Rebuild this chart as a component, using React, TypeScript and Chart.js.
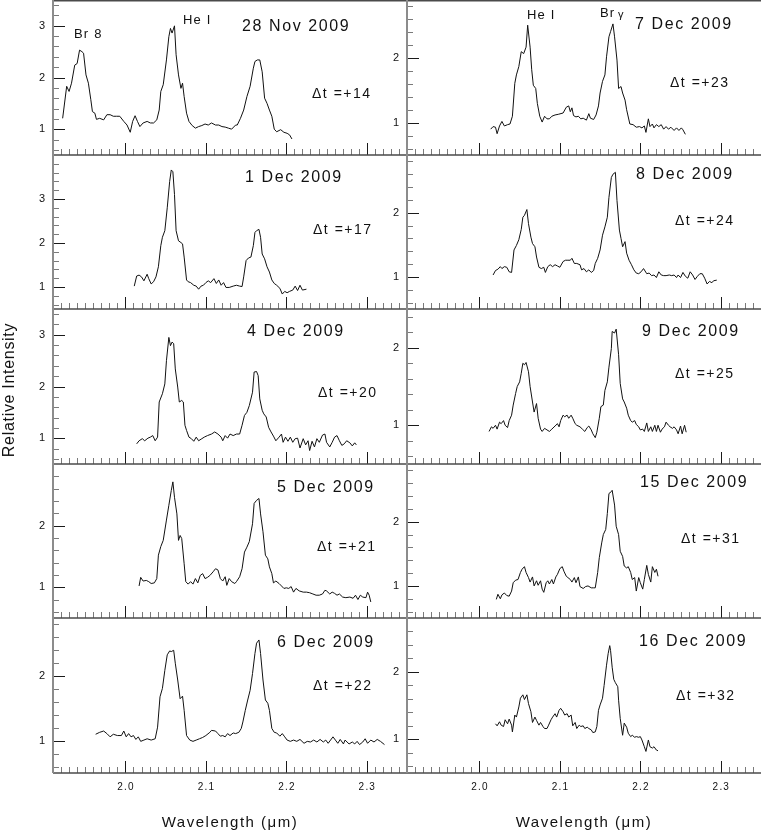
import { useEffect, useRef } from "react"
import Chart from "chart.js/auto"

const FONT = '"Liberation Sans", Arial, Helvetica, sans-serif'

// ---- spectra (wavelength in µm, relative intensity) ----
const nov28Wave = [1.922, 1.927, 1.930, 1.933, 1.937, 1.940, 1.943, 1.946, 1.948, 1.951, 1.954, 1.957, 1.959, 1.962, 1.964, 1.968, 1.973, 1.977, 1.981, 1.985, 1.989, 1.993, 1.998, 2.002, 2.006, 2.009, 2.012, 2.015, 2.018, 2.022, 2.027, 2.031, 2.035, 2.039, 2.042, 2.044, 2.047, 2.051, 2.054, 2.056, 2.058, 2.061, 2.063, 2.066, 2.069, 2.071, 2.073, 2.076, 2.079, 2.083, 2.087, 2.091, 2.095, 2.099, 2.103, 2.107, 2.112, 2.116, 2.120, 2.124, 2.128, 2.132, 2.137, 2.139, 2.143, 2.147, 2.151, 2.155, 2.159, 2.161, 2.164, 2.167, 2.170, 2.173, 2.176, 2.179, 2.182, 2.185, 2.188, 2.193, 2.197, 2.201, 2.204, 2.207]
const nov28Flux = [1.21, 1.83, 1.73, 1.89, 2.24, 2.27, 2.53, 2.50, 2.47, 2.05, 1.89, 1.57, 1.34, 1.31, 1.19, 1.21, 1.18, 1.28, 1.28, 1.25, 1.25, 1.25, 1.15, 1.08, 0.94, 1.15, 1.26, 1.15, 1.05, 1.12, 1.15, 1.12, 1.12, 1.18, 1.37, 1.73, 1.86, 2.34, 2.79, 2.95, 2.86, 3.0, 2.44, 2.05, 1.79, 1.89, 1.63, 1.31, 1.15, 1.07, 1.02, 1.05, 1.07, 1.10, 1.08, 1.12, 1.08, 1.08, 1.05, 1.04, 1.02, 1.0, 1.08, 1.08, 1.21, 1.37, 1.63, 1.83, 2.18, 2.31, 2.34, 2.34, 2.11, 1.60, 1.50, 1.37, 1.25, 1.0, 0.95, 0.99, 0.94, 0.92, 0.89, 0.81]

const dec1Wave = [2.011, 2.014, 2.017, 2.020, 2.023, 2.027, 2.029, 2.032, 2.035, 2.038, 2.041, 2.044, 2.046, 2.049, 2.052, 2.055, 2.057, 2.059, 2.061, 2.063, 2.066, 2.069, 2.071, 2.073, 2.076, 2.078, 2.081, 2.085, 2.088, 2.091, 2.094, 2.097, 2.100, 2.103, 2.106, 2.110, 2.113, 2.116, 2.119, 2.122, 2.125, 2.129, 2.134, 2.138, 2.142, 2.145, 2.147, 2.150, 2.153, 2.156, 2.159, 2.161, 2.163, 2.166, 2.168, 2.170, 2.173, 2.176, 2.179, 2.182, 2.185, 2.188, 2.192, 2.195, 2.198, 2.201, 2.204, 2.208, 2.211, 2.214, 2.217, 2.220, 2.225]
const dec1Flux = [1.02, 1.25, 1.27, 1.23, 1.14, 1.29, 1.19, 1.07, 1.12, 1.23, 1.46, 1.94, 2.13, 2.28, 2.80, 3.40, 3.66, 3.62, 3.10, 2.28, 2.05, 2.01, 1.98, 1.68, 1.16, 1.12, 1.10, 1.04, 1.02, 0.95, 1.02, 1.04, 1.10, 1.14, 1.10, 1.19, 1.08, 1.16, 1.04, 1.10, 0.99, 0.99, 1.02, 1.04, 1.02, 1.01, 1.23, 1.60, 1.66, 1.68, 1.94, 2.24, 2.28, 2.31, 2.13, 1.75, 1.64, 1.46, 1.34, 1.16, 1.08, 1.04, 0.97, 0.84, 0.90, 0.87, 0.90, 0.93, 1.02, 0.92, 1.04, 0.93, 0.95]

const dec4Wave = [2.014, 2.017, 2.021, 2.024, 2.028, 2.031, 2.034, 2.037, 2.040, 2.042, 2.046, 2.049, 2.051, 2.054, 2.056, 2.058, 2.060, 2.062, 2.065, 2.067, 2.070, 2.072, 2.074, 2.076, 2.079, 2.082, 2.085, 2.088, 2.091, 2.095, 2.098, 2.102, 2.107, 2.111, 2.115, 2.119, 2.121, 2.124, 2.127, 2.130, 2.134, 2.138, 2.142, 2.145, 2.148, 2.151, 2.154, 2.158, 2.160, 2.163, 2.165, 2.167, 2.170, 2.172, 2.175, 2.178, 2.181, 2.184, 2.187, 2.191, 2.194, 2.196, 2.199, 2.202, 2.205, 2.208, 2.211, 2.214, 2.217, 2.221, 2.224, 2.227, 2.229, 2.232, 2.235, 2.238, 2.241, 2.245, 2.248, 2.250, 2.254, 2.257, 2.260, 2.263, 2.266, 2.269, 2.272, 2.275, 2.279, 2.282, 2.285, 2.287]
const dec4Flux = [0.89, 0.95, 0.99, 0.95, 1.0, 1.02, 1.05, 0.95, 1.02, 1.70, 1.86, 2.05, 2.50, 2.95, 2.79, 2.86, 2.83, 2.34, 1.99, 1.70, 1.73, 1.70, 1.25, 1.15, 1.02, 0.99, 0.94, 1.02, 0.95, 0.99, 1.02, 1.05, 1.08, 1.12, 1.08, 1.02, 0.95, 1.05, 1.0, 1.08, 1.05, 1.08, 1.08, 1.25, 1.44, 1.50, 1.63, 1.89, 2.28, 2.29, 2.21, 1.76, 1.54, 1.47, 1.41, 1.21, 1.12, 1.04, 0.95, 1.02, 1.08, 0.92, 1.02, 0.94, 1.02, 0.92, 0.99, 1.0, 0.81, 0.99, 0.87, 0.95, 0.76, 0.94, 0.83, 0.99, 0.92, 1.06, 1.08, 0.92, 0.83, 0.92, 1.02, 1.05, 0.95, 0.86, 0.89, 0.95, 0.91, 0.85, 0.91, 0.87]

const dec5Wave = [2.017, 2.019, 2.022, 2.026, 2.029, 2.032, 2.036, 2.039, 2.041, 2.044, 2.047, 2.051, 2.054, 2.057, 2.059, 2.061, 2.064, 2.066, 2.068, 2.070, 2.073, 2.075, 2.078, 2.081, 2.084, 2.087, 2.090, 2.093, 2.096, 2.099, 2.102, 2.105, 2.109, 2.112, 2.115, 2.118, 2.121, 2.124, 2.126, 2.129, 2.132, 2.136, 2.138, 2.142, 2.145, 2.148, 2.151, 2.154, 2.158, 2.160, 2.163, 2.166, 2.168, 2.171, 2.174, 2.177, 2.179, 2.182, 2.184, 2.187, 2.191, 2.194, 2.197, 2.200, 2.203, 2.206, 2.209, 2.212, 2.216, 2.221, 2.225, 2.229, 2.233, 2.237, 2.241, 2.245, 2.248, 2.250, 2.254, 2.257, 2.260, 2.263, 2.266, 2.270, 2.274, 2.279, 2.283, 2.286, 2.289, 2.292, 2.295, 2.299, 2.301, 2.303, 2.305]
const dec5Flux = [1.02, 1.16, 1.10, 1.11, 1.09, 1.06, 1.07, 1.14, 1.52, 1.66, 1.76, 2.09, 2.33, 2.57, 2.71, 2.46, 2.19, 1.76, 1.84, 1.79, 1.38, 1.09, 1.05, 1.09, 1.05, 1.14, 1.07, 1.19, 1.22, 1.14, 1.16, 1.19, 1.25, 1.30, 1.28, 1.14, 1.10, 1.17, 1.03, 1.14, 1.09, 1.06, 1.09, 1.17, 1.30, 1.57, 1.65, 1.74, 2.03, 2.36, 2.41, 2.44, 2.19, 1.90, 1.52, 1.46, 1.33, 1.22, 1.07, 1.10, 1.06, 1.02, 0.98, 0.99, 0.98, 1.01, 0.92, 0.98, 0.94, 0.92, 0.92, 0.91, 0.89, 0.87, 0.87, 0.89, 0.95, 0.94, 0.89, 0.92, 0.90, 0.87, 0.89, 0.84, 0.83, 0.84, 0.82, 0.87, 0.80, 0.87, 0.84, 0.83, 0.92, 0.87, 0.76]

const dec6Wave = [1.963, 1.968, 1.973, 1.977, 1.981, 1.985, 1.990, 1.995, 1.998, 2.001, 2.004, 2.007, 2.010, 2.013, 2.016, 2.019, 2.023, 2.027, 2.032, 2.037, 2.040, 2.043, 2.046, 2.049, 2.052, 2.055, 2.057, 2.060, 2.062, 2.065, 2.068, 2.071, 2.073, 2.076, 2.080, 2.084, 2.088, 2.092, 2.096, 2.100, 2.105, 2.107, 2.112, 2.115, 2.118, 2.121, 2.124, 2.127, 2.130, 2.134, 2.137, 2.141, 2.144, 2.146, 2.149, 2.152, 2.155, 2.158, 2.161, 2.163, 2.166, 2.168, 2.171, 2.174, 2.177, 2.179, 2.182, 2.185, 2.188, 2.192, 2.195, 2.198, 2.201, 2.205, 2.209, 2.213, 2.217, 2.222, 2.226, 2.230, 2.234, 2.238, 2.242, 2.246, 2.249, 2.252, 2.255, 2.258, 2.261, 2.264, 2.267, 2.271, 2.273, 2.278, 2.282, 2.285, 2.288, 2.291, 2.295, 2.298, 2.301, 2.305, 2.309, 2.313, 2.317, 2.322]
const dec6Flux = [1.10, 1.13, 1.15, 1.11, 1.06, 1.10, 1.08, 1.08, 1.15, 1.06, 1.11, 1.06, 1.08, 1.02, 1.06, 0.99, 1.01, 1.03, 1.01, 1.03, 1.21, 1.68, 1.81, 2.09, 2.33, 2.39, 2.38, 2.40, 2.20, 1.94, 1.65, 1.69, 1.47, 1.08, 1.01, 0.99, 1.01, 1.03, 1.05, 1.08, 1.13, 1.16, 1.15, 1.11, 1.07, 1.08, 1.06, 1.11, 1.08, 1.12, 1.11, 1.13, 1.19, 1.29, 1.47, 1.63, 1.78, 2.04, 2.35, 2.51, 2.56, 2.35, 1.94, 1.63, 1.58, 1.47, 1.19, 1.13, 1.12, 1.07, 1.11, 1.06, 1.01, 0.99, 1.01, 0.99, 1.02, 0.96, 0.99, 0.98, 1.01, 0.98, 1.02, 0.98, 1.01, 0.96, 1.01, 1.06, 1.01, 0.96, 1.02, 0.95, 1.01, 0.95, 0.98, 0.95, 0.99, 0.94, 0.98, 1.03, 0.96, 1.01, 0.98, 1.02, 0.99, 0.94]

const dec7Wave = [2.014, 2.017, 2.020, 2.022, 2.025, 2.028, 2.031, 2.035, 2.038, 2.041, 2.044, 2.046, 2.049, 2.052, 2.055, 2.058, 2.060, 2.063, 2.065, 2.067, 2.070, 2.072, 2.075, 2.078, 2.081, 2.084, 2.087, 2.090, 2.094, 2.098, 2.104, 2.108, 2.111, 2.113, 2.115, 2.117, 2.120, 2.123, 2.126, 2.129, 2.133, 2.136, 2.138, 2.142, 2.145, 2.148, 2.150, 2.153, 2.156, 2.158, 2.161, 2.163, 2.166, 2.168, 2.171, 2.173, 2.176, 2.178, 2.181, 2.183, 2.187, 2.191, 2.195, 2.199, 2.202, 2.205, 2.207, 2.210, 2.212, 2.215, 2.217, 2.220, 2.223, 2.226, 2.229, 2.232, 2.235, 2.238, 2.242, 2.245, 2.248, 2.251, 2.253, 2.256]
const dec7Flux = [0.90, 0.94, 0.93, 0.83, 0.95, 1.02, 0.95, 0.97, 0.98, 1.10, 1.61, 1.74, 1.87, 2.10, 2.07, 2.17, 2.51, 2.17, 1.82, 1.58, 1.53, 1.30, 1.10, 1.01, 1.10, 1.06, 1.06, 1.10, 1.12, 1.13, 1.15, 1.24, 1.26, 1.17, 1.23, 1.11, 1.09, 1.10, 1.06, 1.07, 1.04, 1.14, 1.07, 1.05, 1.12, 1.26, 1.46, 1.64, 1.74, 2.02, 2.33, 2.41, 2.53, 2.33, 1.97, 1.53, 1.56, 1.46, 1.35, 1.20, 0.98, 0.97, 0.93, 0.94, 0.92, 0.95, 0.85, 1.06, 0.94, 0.98, 0.92, 0.97, 0.94, 0.97, 0.90, 0.94, 0.90, 0.93, 0.88, 0.92, 0.88, 0.92, 0.89, 0.82]

const dec8Wave = [2.017, 2.020, 2.023, 2.026, 2.028, 2.031, 2.034, 2.037, 2.040, 2.043, 2.046, 2.049, 2.052, 2.054, 2.056, 2.059, 2.061, 2.064, 2.066, 2.069, 2.071, 2.074, 2.077, 2.080, 2.082, 2.085, 2.088, 2.091, 2.094, 2.097, 2.100, 2.104, 2.107, 2.110, 2.113, 2.115, 2.118, 2.121, 2.125, 2.127, 2.130, 2.133, 2.136, 2.139, 2.142, 2.144, 2.147, 2.150, 2.153, 2.156, 2.159, 2.161, 2.164, 2.166, 2.169, 2.171, 2.174, 2.176, 2.178, 2.181, 2.183, 2.186, 2.189, 2.192, 2.195, 2.198, 2.201, 2.204, 2.208, 2.211, 2.214, 2.217, 2.220, 2.223, 2.226, 2.229, 2.232, 2.236, 2.239, 2.242, 2.245, 2.247, 2.250, 2.253, 2.256, 2.259, 2.262, 2.265, 2.268, 2.271, 2.274, 2.277, 2.280, 2.283, 2.286, 2.289, 2.291, 2.295]
const dec8Flux = [1.03, 1.10, 1.12, 1.16, 1.13, 1.16, 1.15, 1.08, 1.07, 1.42, 1.49, 1.58, 1.74, 1.93, 1.96, 2.05, 1.83, 1.62, 1.52, 1.47, 1.31, 1.15, 1.13, 1.15, 1.07, 1.16, 1.19, 1.16, 1.19, 1.17, 1.15, 1.24, 1.26, 1.26, 1.26, 1.29, 1.21, 1.21, 1.19, 1.11, 1.13, 1.08, 1.11, 1.07, 1.10, 1.21, 1.29, 1.42, 1.65, 1.78, 1.93, 2.24, 2.55, 2.60, 2.63, 2.19, 1.73, 1.60, 1.47, 1.55, 1.37, 1.26, 1.19, 1.11, 1.06, 1.05, 1.08, 1.13, 1.05, 1.06, 1.02, 1.03, 0.99, 1.08, 1.03, 1.02, 1.02, 1.03, 1.02, 1.03, 0.99, 1.03, 0.99, 1.07, 1.01, 0.98, 1.08, 1.03, 0.96, 1.01, 1.05, 1.05, 0.98, 0.89, 0.93, 0.91, 0.94, 0.95]

const dec9Wave = [2.012, 2.015, 2.017, 2.020, 2.022, 2.025, 2.027, 2.030, 2.032, 2.035, 2.037, 2.040, 2.042, 2.045, 2.047, 2.050, 2.052, 2.054, 2.056, 2.058, 2.061, 2.063, 2.066, 2.068, 2.071, 2.073, 2.076, 2.078, 2.081, 2.084, 2.087, 2.090, 2.094, 2.097, 2.099, 2.101, 2.104, 2.106, 2.109, 2.111, 2.114, 2.116, 2.119, 2.121, 2.125, 2.128, 2.131, 2.134, 2.136, 2.139, 2.141, 2.144, 2.146, 2.149, 2.151, 2.154, 2.156, 2.159, 2.161, 2.164, 2.165, 2.168, 2.170, 2.173, 2.175, 2.178, 2.180, 2.183, 2.185, 2.188, 2.190, 2.193, 2.195, 2.198, 2.200, 2.203, 2.205, 2.208, 2.210, 2.213, 2.215, 2.218, 2.220, 2.222, 2.225, 2.227, 2.230, 2.232, 2.235, 2.237, 2.240, 2.242, 2.245, 2.247, 2.250, 2.252, 2.255, 2.257]
const dec9Flux = [0.92, 0.98, 0.96, 1.0, 0.95, 1.04, 1.02, 1.06, 1.0, 0.97, 1.06, 1.13, 1.26, 1.41, 1.50, 1.56, 1.67, 1.80, 1.78, 1.81, 1.69, 1.50, 1.30, 1.17, 1.28, 1.09, 0.95, 0.92, 0.96, 0.94, 0.92, 0.95, 0.99, 1.02, 0.98, 1.06, 1.13, 1.11, 1.13, 1.09, 1.13, 1.09, 1.02, 1.0, 0.98, 0.95, 0.92, 0.97, 0.99, 0.94, 0.89, 0.84, 0.91, 1.09, 1.24, 1.26, 1.45, 1.56, 1.75, 1.99, 2.21, 2.19, 2.24, 1.91, 1.54, 1.34, 1.30, 1.22, 1.13, 1.06, 1.04, 1.06, 1.01, 0.98, 0.94, 0.95, 0.92, 1.03, 0.92, 0.98, 0.92, 1.0, 0.92, 1.0, 0.91, 0.95, 0.98, 1.04, 1.0, 0.98, 0.96, 0.98, 0.94, 0.89, 0.99, 0.89, 1.0, 0.91]

const dec15Wave = [2.021, 2.023, 2.026, 2.028, 2.031, 2.034, 2.037, 2.040, 2.042, 2.045, 2.048, 2.051, 2.053, 2.056, 2.058, 2.061, 2.063, 2.066, 2.068, 2.071, 2.073, 2.076, 2.078, 2.080, 2.083, 2.085, 2.087, 2.090, 2.092, 2.095, 2.097, 2.100, 2.103, 2.105, 2.108, 2.110, 2.113, 2.115, 2.118, 2.120, 2.123, 2.125, 2.129, 2.132, 2.135, 2.139, 2.142, 2.144, 2.147, 2.149, 2.152, 2.154, 2.157, 2.159, 2.161, 2.164, 2.165, 2.168, 2.170, 2.173, 2.175, 2.178, 2.180, 2.183, 2.185, 2.188, 2.190, 2.193, 2.195, 2.198, 2.200, 2.203, 2.205, 2.208, 2.210, 2.213, 2.215, 2.218, 2.220, 2.222]
const dec15Flux = [0.79, 0.87, 0.80, 0.86, 0.89, 0.85, 0.84, 0.92, 1.05, 1.09, 1.10, 1.21, 1.26, 1.30, 1.21, 1.13, 1.06, 1.14, 1.0, 1.08, 1.01, 1.08, 0.95, 0.90, 1.05, 1.08, 1.03, 1.10, 1.03, 1.14, 1.18, 1.27, 1.30, 1.23, 1.15, 1.13, 1.10, 1.06, 1.13, 1.05, 1.14, 0.99, 0.96, 0.99, 1.0, 0.97, 0.97, 0.97, 1.21, 1.44, 1.67, 1.80, 1.88, 2.13, 2.44, 2.47, 2.49, 2.26, 1.93, 1.80, 1.54, 1.46, 1.31, 1.28, 1.30, 1.21, 1.10, 1.13, 0.92, 1.13, 1.05, 0.95, 1.10, 1.32, 1.18, 1.06, 1.30, 1.21, 1.26, 1.15]

const dec16Wave = [2.020, 2.022, 2.025, 2.027, 2.030, 2.032, 2.035, 2.037, 2.040, 2.041, 2.044, 2.046, 2.049, 2.051, 2.054, 2.056, 2.059, 2.061, 2.064, 2.066, 2.069, 2.071, 2.074, 2.076, 2.079, 2.081, 2.084, 2.086, 2.089, 2.091, 2.094, 2.096, 2.099, 2.101, 2.104, 2.106, 2.109, 2.111, 2.114, 2.116, 2.119, 2.121, 2.124, 2.126, 2.129, 2.131, 2.134, 2.136, 2.139, 2.141, 2.144, 2.146, 2.148, 2.150, 2.153, 2.155, 2.158, 2.160, 2.162, 2.163, 2.165, 2.167, 2.169, 2.172, 2.173, 2.175, 2.178, 2.180, 2.183, 2.185, 2.188, 2.190, 2.193, 2.195, 2.198, 2.200, 2.202, 2.205, 2.207, 2.210, 2.212, 2.215, 2.217, 2.220, 2.222]
const dec16Flux = [1.23, 1.20, 1.26, 1.21, 1.19, 1.29, 1.23, 1.30, 1.21, 1.11, 1.36, 1.33, 1.48, 1.61, 1.66, 1.59, 1.66, 1.53, 1.41, 1.25, 1.33, 1.28, 1.21, 1.25, 1.19, 1.16, 1.16, 1.21, 1.29, 1.33, 1.38, 1.33, 1.43, 1.46, 1.41, 1.36, 1.38, 1.33, 1.36, 1.20, 1.25, 1.16, 1.21, 1.19, 1.20, 1.16, 1.18, 1.16, 1.14, 1.10, 1.11, 1.19, 1.43, 1.51, 1.61, 1.80, 2.10, 2.27, 2.39, 2.32, 2.07, 1.89, 1.84, 1.78, 1.58, 1.31, 1.06, 1.24, 1.18, 1.09, 1.04, 1.06, 1.03, 1.04, 1.03, 1.04, 0.99, 0.89, 0.82, 0.99, 0.89, 0.87, 0.89, 0.84, 0.83]

// ---- axes ----
const WAVE_MIN = 1.91
const WAVE_MAX = 2.35
const WAVE_LABELS = [2.0, 2.1, 2.2, 2.3]
const INTENSITY_LABELS = [1, 2, 3]
const INTENSITY_MIN = 0.5

// ---- layout (pixels) ----
const PLOT_W = 354
const COL_LEFT = [53, 407]
const ROW_TOP = [0, 155, 309, 464, 618]
const ROW_H = [155, 154, 155, 154, 155]
const PAD_L = 44
const PAD = 4
const PAD_BOTTOM_ROW = 30

type Note = { text: string; dx: number; dy: number; size?: number }
type Panel = {
  col: number
  row: number
  wave: number[]
  flux: number[]
  yMax: number
  date: string
  dateAt: [number, number]
  dt: string
  dtAt: [number, number]
  notes?: Note[]
}

const panels: Panel[] = [
  {
    col: 0, row: 0, wave: nov28Wave, flux: nov28Flux, yMax: 3.5,
    date: "28 Nov 2009", dateAt: [189, 27], dt: "Δt =+14", dtAt: [259, 94],
    notes: [
      { text: "Br 8", dx: 21, dy: 34 },
      { text: "He I", dx: 130, dy: 20 },
    ],
  },
  { col: 0, row: 1, wave: dec1Wave, flux: dec1Flux, yMax: 4.0, date: "1 Dec 2009", dateAt: [192, 23], dt: "Δt =+17", dtAt: [260, 75] },
  { col: 0, row: 2, wave: dec4Wave, flux: dec4Flux, yMax: 3.5, date: "4 Dec 2009", dateAt: [194, 23], dt: "Δt =+20", dtAt: [265, 84] },
  { col: 0, row: 3, wave: dec5Wave, flux: dec5Flux, yMax: 3.0, date: "5 Dec 2009", dateAt: [224, 24], dt: "Δt =+21", dtAt: [264, 83] },
  { col: 0, row: 4, wave: dec6Wave, flux: dec6Flux, yMax: 2.9, date: "6 Dec 2009", dateAt: [224, 25], dt: "Δt =+22", dtAt: [260, 68] },
  {
    col: 1, row: 0, wave: dec7Wave, flux: dec7Flux, yMax: 2.9,
    date: "7 Dec 2009", dateAt: [228, 25], dt: "Δt =+23", dtAt: [263, 83],
    notes: [
      { text: "He I", dx: 120, dy: 15 },
      { text: "Br", dx: 193, dy: 13 },
      { text: "γ", dx: 211, dy: 15, size: 11 },
    ],
  },
  { col: 1, row: 1, wave: dec8Wave, flux: dec8Flux, yMax: 2.9, date: "8 Dec 2009", dateAt: [229, 20], dt: "Δt =+24", dtAt: [268, 66] },
  { col: 1, row: 2, wave: dec9Wave, flux: dec9Flux, yMax: 2.5, date: "9 Dec 2009", dateAt: [235, 23], dt: "Δt =+25", dtAt: [268, 65] },
  { col: 1, row: 3, wave: dec15Wave, flux: dec15Flux, yMax: 2.9, date: "15 Dec 2009", dateAt: [233, 19], dt: "Δt =+31", dtAt: [274, 75] },
  { col: 1, row: 4, wave: dec16Wave, flux: dec16Flux, yMax: 2.8, date: "16 Dec 2009", dateAt: [232, 24], dt: "Δt =+32", dtAt: [269, 78] },
]

const near = (a: number, b: number) => Math.abs(a - b) < 1e-6

function SpectrumPanel({ panel }: { panel: Panel }) {
  const canvasRef = useRef<HTMLCanvasElement>(null)
  const bottomRow = panel.row === ROW_TOP.length - 1
  const h = ROW_H[panel.row]
  const padBottom = bottomRow ? PAD_BOTTOM_ROW : PAD
  const width = PAD_L + PLOT_W + PAD
  const height = PAD + h + padBottom

  useEffect(() => {
    if (!canvasRef.current) return
    const ctx = canvasRef.current.getContext("2d")
    if (!ctx) return

    const n = Math.min(panel.wave.length, panel.flux.length)
    const points = []
    for (let i = 0; i < n; i++) points.push({ x: panel.wave[i], y: panel.flux[i] })

    // minor ticks every 0.01 µm and 0.2 intensity
    const xTicks: number[] = []
    for (let k = Math.round(WAVE_MIN * 100); k <= Math.round(WAVE_MAX * 100); k++) xTicks.push(k / 100)
    const yTicks: number[] = []
    for (let k = Math.ceil(INTENSITY_MIN * 5); k <= Math.floor(panel.yMax * 5 + 1e-9); k++) yTicks.push(k / 5)

    const setFont = (c: CanvasRenderingContext2D, size: number, spacing: string) => {
      c.font = `${size}px ${FONT}`
      ;(c as any).letterSpacing = spacing
    }

    const axesPlugin = {
      id: "spectrumAxes",
      beforeDatasetsDraw(chart: Chart) {
        const c = chart.ctx
        const a = chart.chartArea
        const xs = chart.scales.x
        const ys = chart.scales.y
        c.save()
        c.lineWidth = 1
        // wavelength ticks along the bottom, pointing up
        for (const t of xs.ticks) {
          const v = t.value
          if (v <= xs.min + 1e-6 || v >= xs.max - 1e-6) continue
          const major = near(v * 10, Math.round(v * 10))
          const px = Math.round(xs.getPixelForValue(v)) + 0.5
          c.strokeStyle = major ? "#1a1a1a" : "#7a7a7a"
          c.beginPath()
          c.moveTo(px, a.bottom)
          c.lineTo(px, a.bottom - (major ? 12 : 6))
          c.stroke()
        }
        // intensity ticks on the left, pointing right
        for (const t of ys.ticks) {
          const v = t.value
          if (v <= ys.min + 1e-6 || v >= ys.max - 1e-6) continue
          const major = near(v, Math.round(v))
          const py = Math.round(ys.getPixelForValue(v)) + 0.5
          c.strokeStyle = major ? "#1a1a1a" : "#7a7a7a"
          c.beginPath()
          c.moveTo(a.left, py)
          c.lineTo(a.left + (major ? 12 : 6), py)
          c.stroke()
        }
        // frame
        c.strokeStyle = "#4a4a4a"
        c.lineWidth = 1.5
        c.beginPath()
        c.moveTo(a.left, a.bottom)
        c.lineTo(a.right, a.bottom)
        if (panel.row === 0) {
          c.moveTo(a.left, a.top + 0.75)
          c.lineTo(a.right, a.top + 0.75)
        }
        c.stroke()
        c.strokeStyle = "#8c8c8c"
        c.lineWidth = 2
        c.beginPath()
        c.moveTo(a.left, a.top)
        c.lineTo(a.left, a.bottom + (bottomRow ? 0 : 1))
        c.stroke()

        // tick labels
        c.fillStyle = "#111"
        setFont(c, 11, "0px")
        c.textAlign = "right"
        c.textBaseline = "middle"
        for (const v of INTENSITY_LABELS) {
          if (v <= ys.min + 0.05 || v >= ys.max - 0.05) continue
          c.fillText(String(v), a.left - 8, ys.getPixelForValue(v))
        }
        if (bottomRow) {
          setFont(c, 10, "1.2px")
          c.textAlign = "center"
          for (const v of WAVE_LABELS) {
            c.fillText(v.toFixed(1), xs.getPixelForValue(v) + 0.6, a.bottom + 14)
          }
        }
        c.restore()
      },
      afterDatasetsDraw(chart: Chart) {
        const c = chart.ctx
        const a = chart.chartArea
        c.save()
        c.fillStyle = "#111"
        c.textAlign = "left"
        c.textBaseline = "middle"
        setFont(c, 16, "1.6px")
        c.fillText(panel.date, a.left + panel.dateAt[0], a.top + panel.dateAt[1])
        setFont(c, 14, "1.5px")
        c.fillText(panel.dt, a.left + panel.dtAt[0], a.top + panel.dtAt[1])
        for (const note of panel.notes || []) {
          setFont(c, note.size || 13, "1.2px")
          c.fillText(note.text, a.left + note.dx, a.top + note.dy)
        }
        c.restore()
      },
    }

    const chart = new Chart(ctx, {
      type: "line",
      data: {
        datasets: [
          {
            data: points,
            borderColor: "#111",
            borderWidth: 1,
            pointRadius: 0,
            tension: 0,
            fill: false,
          },
        ],
      },
      options: {
        animation: false,
        responsive: false,
        maintainAspectRatio: false,
        events: [],
        layout: { padding: { left: PAD_L, top: PAD, right: PAD, bottom: padBottom } },
        plugins: { legend: { display: false }, tooltip: { enabled: false } },
        scales: {
          x: {
            type: "linear",
            min: WAVE_MIN,
            max: WAVE_MAX,
            grid: { display: false, drawTicks: false },
            border: { display: false },
            ticks: { display: false },
            afterBuildTicks: (scale: any) => {
              scale.ticks = xTicks.map((v) => ({ value: v }))
            },
          },
          y: {
            type: "linear",
            min: INTENSITY_MIN,
            max: panel.yMax,
            grid: { display: false, drawTicks: false },
            border: { display: false },
            ticks: { display: false },
            afterBuildTicks: (scale: any) => {
              scale.ticks = yTicks.map((v) => ({ value: v }))
            },
          },
        },
      },
      plugins: [axesPlugin],
    } as any)

    return () => {
      chart.destroy()
    }
  }, [panel])

  return (
    <canvas
      ref={canvasRef}
      width={width}
      height={height}
      style={{
        position: "absolute",
        left: COL_LEFT[panel.col] - PAD_L,
        top: ROW_TOP[panel.row] - PAD,
        width,
        height,
      }}
    />
  )
}

export default function App() {
  return (
    <div
      style={{
        position: "absolute",
        left: 0,
        top: 0,
        width: 761,
        height: 831,
        overflow: "hidden",
        background: "#fff",
        fontFamily: FONT,
        color: "#111",
      }}
    >
      {panels.map((p, i) => (
        <SpectrumPanel key={i} panel={p} />
      ))}
      <div
        style={{
          position: "absolute",
          left: 9 - 100,
          top: 390 - 10,
          width: 200,
          height: 20,
          lineHeight: "20px",
          textAlign: "center",
          fontSize: 16,
          letterSpacing: "0.7px",
          transform: "rotate(-90deg)",
          whiteSpace: "nowrap",
        }}
      >
        Relative Intensity
      </div>
      {COL_LEFT.map((left, i) => (
        <div
          key={i}
          style={{
            position: "absolute",
            left: left + PLOT_W / 2 - 150,
            top: 812,
            width: 300,
            height: 20,
            lineHeight: "20px",
            textAlign: "center",
            fontSize: 15,
            letterSpacing: "1.5px",
            whiteSpace: "nowrap",
          }}
        >
          Wavelength (μm)
        </div>
      ))}
    </div>
  )
}
